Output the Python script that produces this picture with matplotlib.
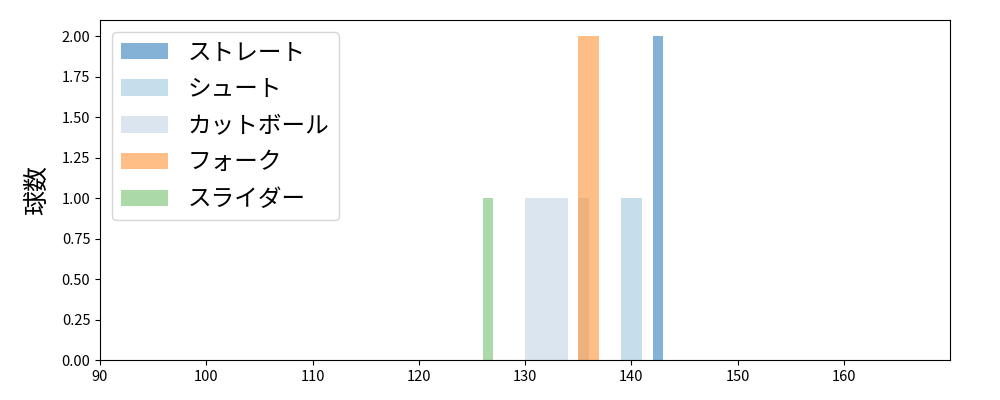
import numpy as np
import matplotlib
matplotlib.use('Agg')
import matplotlib.pyplot as plt

plt.rcParams['font.family'] = ['Noto Sans CJK JP', 'DejaVu Sans']

# pitch types and their histogram bars (left edge, right edge, count)
pitch_names = ['ストレート', 'シュート', 'カットボール', 'フォーク', 'スライダー']
pitch_colors = ['#0b67af', '#8bbfdb', '#b9cde3', '#ff7f0e', '#59b551']

straight_left = [142]
straight_right = [143]
straight_count = [2]

shoot_left = [139]
shoot_right = [141]
shoot_count = [1]

cutball_left = [130, 135]
cutball_right = [134, 136]
cutball_count = [1, 1]

fork_left = [135]
fork_right = [137]
fork_count = [2]

slider_left = [126]
slider_right = [127]
slider_count = [1]

lefts = [straight_left, shoot_left, cutball_left, fork_left, slider_left]
rights = [straight_right, shoot_right, cutball_right, fork_right, slider_right]
counts = [straight_count, shoot_count, cutball_count, fork_count, slider_count]

fig = plt.figure(figsize=(10, 4), dpi=100)
ax = fig.add_axes([0.1, 0.1, 0.85, 0.85])

for name, col, l, r, c in zip(pitch_names, pitch_colors, lefts, rights, counts):
    l = np.array(l)
    r = np.array(r)
    ax.bar(l, c, width=r - l, align='edge', color=col, alpha=0.5, label=name)

ax.set_xlim(90, 170)
ax.set_xticks(np.arange(90, 170, 10))
ax.set_ylim(0, 2.1)
ax.set_yticks(np.arange(0, 2.01, 0.25))
ax.yaxis.set_major_formatter(matplotlib.ticker.FormatStrFormatter('%.2f'))
ax.tick_params(labelsize=10.5)
ax.set_ylabel('球数', fontsize=18, labelpad=8)
ax.legend(loc='upper left', fontsize=17, labelspacing=0.58)

fig.savefig('out.png')
